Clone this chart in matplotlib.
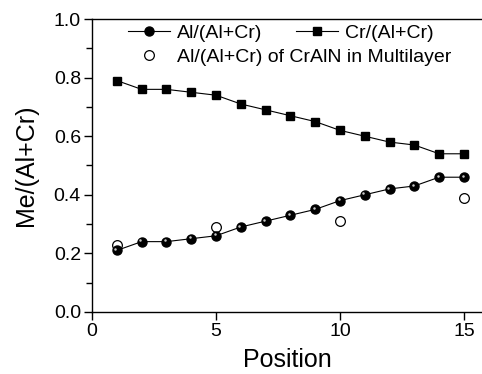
import numpy as np
import matplotlib
matplotlib.use('Agg')
import matplotlib.pyplot as plt
from matplotlib.transforms import offset_copy

plt.rcParams['font.family'] = ['Liberation Sans', 'DejaVu Sans']

# data
position = [1, 2, 3, 4, 5, 6, 7, 8, 9, 10, 11, 12, 13, 14, 15]
al_ratio = [0.21, 0.24, 0.24, 0.25, 0.26, 0.29, 0.31, 0.33, 0.35, 0.38, 0.40, 0.42, 0.43, 0.46, 0.46]
cr_ratio = [0.79, 0.76, 0.76, 0.75, 0.74, 0.71, 0.69, 0.67, 0.65, 0.62, 0.60, 0.58, 0.57, 0.54, 0.54]
multi_pos = [1, 5, 10, 15]
multi_al = [0.23, 0.29, 0.31, 0.39]

fig = plt.figure(figsize=(4.82, 3.74), dpi=100)
ax = fig.add_axes([0.191, 0.166, 0.809, 0.783])

l_al, = ax.plot(position, al_ratio, '-o', color='black', lw=0.8, ms=6.5,
                mfc='black', mec='black', zorder=3)
# small highlight to mimic the shaded spheres
hl_tr = offset_copy(ax.transData, fig=fig, x=-1.0, y=1.0, units='points')
ax.plot(position, al_ratio, 'o', ls='none', ms=1.8, color='#c8c8c8', mec='none',
        transform=hl_tr, zorder=4)
l_cr, = ax.plot(position, cr_ratio, '-s', color='black', lw=0.8, ms=5.5,
                mfc='black', mec='black', zorder=3)
l_mu, = ax.plot(multi_pos, multi_al, 'o', ls='none', ms=7, mfc='white',
                mec='black', mew=0.9, zorder=2)

ax.set_xlim(0, 15.73)
ax.set_ylim(0, 1.0)
ax.set_xticks([0, 5, 10, 15])
ax.set_yticks([0.0, 0.2, 0.4, 0.6, 0.8, 1.0])
ax.set_yticks(np.arange(0.1, 1.0, 0.2), minor=True)
ax.set_yticklabels(['0.0', '0.2', '0.4', '0.6', '0.8', '1.0'])
ax.tick_params(axis='both', which='major', direction='out', length=6,
               width=1, labelsize=14, pad=2)
ax.tick_params(axis='y', which='minor', direction='out', length=4, width=1)
ax.spines['right'].set_visible(False)
for s in ['left', 'top', 'bottom']:
    ax.spines[s].set_linewidth(1)

ax.set_xlabel('Position', fontsize=18, labelpad=6)
ax.set_ylabel('Me/(Al+Cr)', fontsize=18, labelpad=11)

leg1 = ax.legend([l_al, l_cr], ['Al/(Al+Cr)', 'Cr/(Al+Cr)'], ncol=2,
                 loc='center left', bbox_to_anchor=(128 / 482, 1 - 33 / 374),
                 bbox_transform=fig.transFigure, frameon=False,
                 fontsize=14, handlelength=2.15, handletextpad=0.35,
                 columnspacing=1.75, borderpad=0, borderaxespad=0)
ax.add_artist(leg1)
ax.legend([l_mu], ['Al/(Al+Cr) of CrAlN in Multilayer'], loc='center left',
          bbox_to_anchor=(128 / 482, 1 - 57 / 374),
          bbox_transform=fig.transFigure, frameon=False, fontsize=14,
          handlelength=2.15, handletextpad=0.35, borderpad=0, borderaxespad=0)

fig.savefig('out.png', dpi=100)
